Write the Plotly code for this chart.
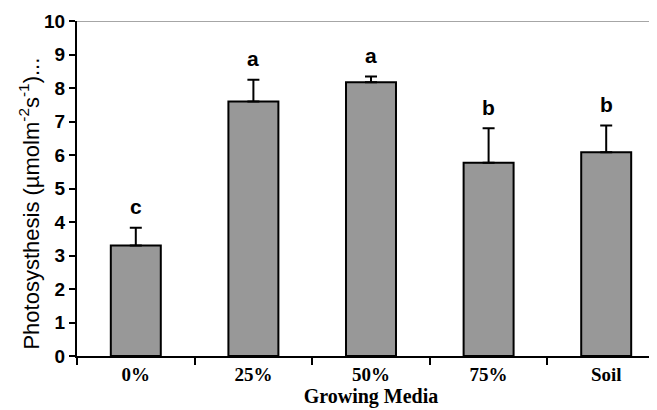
import plotly.graph_objects as go

categories = ["0%", "25%", "50%", "75%", "Soil"]
values = [3.3, 7.6, 8.17, 5.77, 6.08]
errors = [0.53, 0.65, 0.17, 1.03, 0.8]
letters = ["c", "a", "a", "b", "b"]
y_ticks = [0, 1, 2, 3, 4, 5, 6, 7, 8, 9, 10]

fig = go.Figure()
fig.add_trace(go.Bar(
    x=categories, y=values,
    width=0.425,
    marker=dict(color="#989898", line=dict(color="black", width=2)),
    error_y=dict(type="data", array=errors, arrayminus=[0]*len(errors),
                 color="black", thickness=2, width=6),
    showlegend=False,
))

for c, v, e, t in zip(categories, values, errors, letters):
    fig.add_annotation(x=c, y=v + e, text=t, showarrow=False,
                       yanchor="middle", yshift=21,
                       font=dict(family="Liberation Sans, Arial", size=21, color="black",
                                 weight="bold"))

# y-axis title placed as a rotated annotation to match the reference position
fig.add_annotation(xref="paper", yref="paper", x=0, y=0.455, xanchor="center", yanchor="middle",
                   xshift=-48, textangle=-90, showarrow=False,
                   text="Photosysthesis (µmolm<sup>-2</sup>s<sup>-1</sup>)...",
                   font=dict(family="Liberation Sans, Arial", size=22, color="black"))

fig.add_shape(type="line", xref="paper", yref="y", x0=0, x1=1, y0=10, y1=10,
              line=dict(color="#888888", width=1.5))

fig.update_layout(
    width=657, height=410,
    margin=dict(l=69, r=0, t=13, b=62),
    plot_bgcolor="white", paper_bgcolor="white",
)
fig.update_xaxes(
    range=[-0.5, 4.5],
    showline=True, linecolor="black", linewidth=2,
    ticks="outside", tickson="boundaries", ticklen=7, tickwidth=2, tickcolor="black",
    tickfont=dict(family="Liberation Serif, Times New Roman", size=19, color="black",
                  weight="bold"),
    title=dict(text="Growing Media", standoff=4,
               font=dict(family="Liberation Serif, Times New Roman", size=20, color="black",
                         weight="bold")),
    showgrid=False,
)
fig.update_yaxes(
    range=[0, 10], tickvals=y_ticks,
    showline=True, linecolor="black", linewidth=2,
    ticks="outside", ticklen=6, tickwidth=1.5, tickcolor="black",
    tickfont=dict(family="Liberation Sans, Arial", size=19, color="black", weight="bold"),
    showgrid=False, zeroline=False,
)

fig.write_html("out.html")
